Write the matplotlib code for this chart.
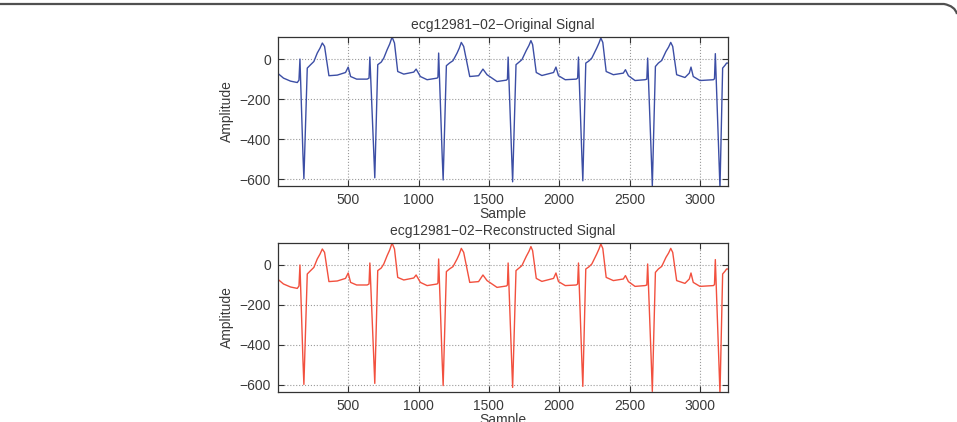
import matplotlib
matplotlib.use("Agg")
import matplotlib.pyplot as plt
from matplotlib.lines import Line2D
from matplotlib.path import Path
from matplotlib.patches import PathPatch

# ---- data (sample index, amplitude) ----
orig_sample = [1, 40, 90, 138, 150, 157, 178, 185, 209, 230, 256, 280, 300, 316, 332, 363,
               422, 481, 500, 517, 560, 635, 648, 654, 682, 689, 710, 735, 753, 777, 795,
               812, 829, 852, 895, 966, 983, 1013, 1061, 1132, 1138, 1143, 1168, 1175, 1198,
               1220, 1245, 1274, 1290, 1304, 1321, 1364, 1427, 1458, 1487, 1558, 1625, 1632,
               1637, 1662, 1669, 1693, 1715, 1735, 1766, 1785, 1799, 1811, 1837, 1877, 1960,
               1977, 1995, 2043, 2121, 2131, 2137, 2161, 2168, 2189, 2210, 2232, 2267, 2283,
               2296, 2310, 2334, 2385, 2456, 2471, 2492, 2539, 2610, 2623, 2629, 2655, 2662,
               2684, 2705, 2729, 2759, 2778, 2793, 2807, 2835, 2894, 2925, 2937, 2953, 3001,
               3096, 3104, 3110, 3136, 3143, 3162, 3180, 3190, 3200]
orig_amp = [-72, -95, -110, -117, -105, 0, -470, -597, -45, -30, -12, 30, 55, 80, 63, -83,
            -80, -67, -40, -87, -100, -100, -95, 10, -470, -592, -28, -15, 5, 47, 75,
            110, 80, -62, -75, -65, -50, -87, -103, -95, -90, 30, -480, -603, -33,
            -20, -8, 30, 55, 83, 63, -87, -83, -50, -78, -112, -105, -100,
            10, -480, -612, -28, -15, -3, 43, 68, 92, 72, -67, -82, -67,
            -40, -83, -103, -100, -95, 10, -480, -607, -20, -10, 5, 55, 80,
            105, 83, -62, -78, -70, -53, -83, -107, -103, -100, 5, -490, -632,
            -37, -20, -7, 38, 60, 83, 63, -78, -92, -70, -40, -87, -107,
            -103, -98, 27, -500, -645, -45, -30, -20, -20]

recon_sample = list(orig_sample)
recon_amp = list(orig_amp)

x_ticks = [500, 1000, 1500, 2000, 2500, 3000]
y_ticks = [-600, -400, -200, 0]
titles = ["ecg12981\u221202\u2212Original Signal", "ecg12981\u221202\u2212Reconstructed Signal"]
x_label = "Sample"
y_label = "Amplitude"

plt.rcParams['font.family'] = ['Liberation Sans', 'DejaVu Sans']
plt.rcParams['font.size'] = 10

fig = plt.figure(figsize=(9.57, 4.22), dpi=100)
fig.patch.set_facecolor('white')

positions = [[0.2905, 0.5592, 0.4702, 0.3531], [0.2905, 0.0711, 0.4702, 0.3531]]
series = [(orig_sample, orig_amp, '#3c4ea5'), (recon_sample, recon_amp, '#f2503e')]
ylims = [(-633, 110), (-635, 110)]

txt_col = '#3a3a3a'
for pos, (xs, ys, col), title, yl in zip(positions, series, titles, ylims):
    ax = fig.add_axes(pos)
    ax.plot(xs, ys, color=col, lw=1.0, solid_joinstyle='round')
    ax.set_xlim(1, 3200)
    ax.set_ylim(*yl)
    ax.set_xticks(x_ticks)
    ax.set_yticks(y_ticks)
    ax.grid(True, linestyle=':', color='#9a9a9a', lw=0.8)
    ax.tick_params(direction='in', top=True, right=True, length=4, width=0.8,
                   colors='#333333', labelcolor=txt_col, labelsize=10, pad=5)
    for s in ax.spines.values():
        s.set_color('#333333')
        s.set_linewidth(0.9)
    ax.set_title(title, color=txt_col, fontsize=10, pad=6)
    ax.set_xlabel(x_label, color=txt_col, fontsize=10, labelpad=0)
    ax.set_ylabel(y_label, color=txt_col, fontsize=10, labelpad=4)

# outer rounded frame (top edge visible in reference)
W, H = 957, 422
verts = [(0, H - 4), (944, H - 4), (955, H - 6), (957, H - 14)]
codes = [Path.MOVETO, Path.LINETO, Path.CURVE3, Path.CURVE3]
verts = [(x / W, y / H) for x, y in verts]
frame = PathPatch(Path(verts, codes), transform=fig.transFigure, fill=False,
                  edgecolor='#505050', lw=1.6)
fig.add_artist(frame)

fig.savefig('out.png', dpi=100, facecolor='white')
